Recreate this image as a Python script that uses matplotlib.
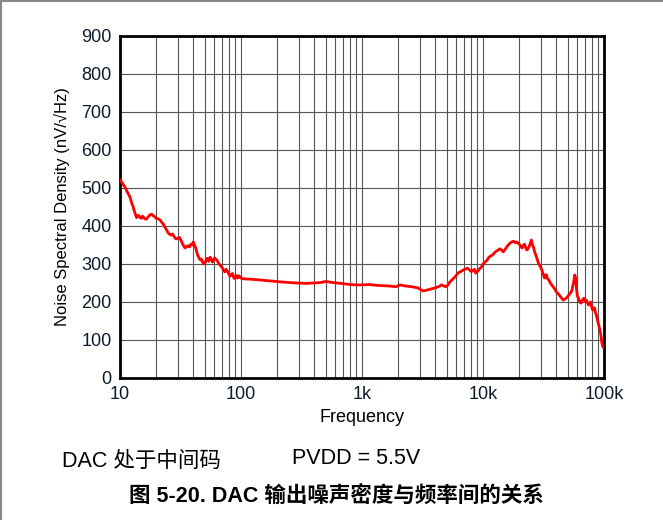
import matplotlib
matplotlib.use("Agg")
import matplotlib.pyplot as plt
from matplotlib.lines import Line2D

plt.rcParams['font.family'] = ['Liberation Sans', 'Noto Sans CJK SC', 'DejaVu Sans']

# noise density trace, (Hz, nV/rtHz) pairs
trace_low = [
    (10, 521), (10.3, 516), (10.6, 510), (11, 502), (11.3, 495), (11.6, 487),
    (11.9, 480), (12.1, 476), (12.3, 468), (12.5, 460), (12.8, 452), (13.0, 444),
    (13.3, 434), (13.5, 428), (13.7, 422), (14.0, 427), (14.3, 428), (14.6, 423),
    (15.0, 420), (15.3, 426), (15.6, 424), (16.0, 419), (16.5, 418), (16.9, 422),
    (17.3, 426), (17.8, 430), (18.3, 431), (18.8, 427), (19.3, 425), (19.8, 421),
    (20.3, 420), (20.8, 418), (21.4, 416), (22.1, 410), (22.8, 405), (23.4, 398),
    (24.0, 392), (24.6, 386), (25.1, 381), (25.8, 378), (26.5, 376), (27.2, 379),
    (28.0, 372), (29.0, 366), (30.3, 368), (31.0, 370), (32.0, 362), (33.2, 350),
    (34.5, 342), (35.5, 346), (36.5, 348), (37.5, 345), (38.5, 352), (39.4, 350),
    (40.3, 358), (41.4, 349), (42.5, 340), (43.2, 330), (44.0, 322), (45.0, 316),
    (45.9, 311), (47.0, 313), (48.0, 306), (49.2, 300), (50.4, 303), (51.5, 310),
    (52.5, 315), (54.0, 307), (55.5, 318), (56.8, 312), (58.0, 305), (59.2, 310),
    (60.5, 316), (61.8, 313), (63.1, 311), (64.5, 305), (66.0, 300), (68.0, 295),
    (70.0, 290), (71.8, 284), (73.6, 279), (75.3, 286), (77.0, 282), (79.0, 275),
    (81.0, 268), (83.0, 272), (85.0, 275), (86.5, 266), (88.0, 262), (90.0, 267),
    (92.0, 270), (93.5, 263), (95.0, 264), (96.5, 269), (98.0, 266), (101, 262),
]
trace_mid = [
    (105, 261), (120, 260), (143, 258), (180, 255), (230, 252), (290, 250),
    (348, 249), (400, 250), (450, 251), (500, 254), (550, 252), (620, 250),
    (700, 248), (800, 246), (900, 245), (1000, 245), (1150, 246), (1300, 244),
    (1500, 243), (1700, 242), (1900, 240), (2054, 245), (2300, 242), (2600, 240),
    (2900, 237), (3200, 229), (3500, 232), (3700, 234), (3900, 236), (4100, 238),
    (4250, 240), (4400, 242), (4550, 245), (4700, 243), (4900, 240), (5100, 244),
]
trace_high = [
    (5300, 252), (5500, 257), (5700, 262), (5950, 268), (6200, 276), (6450, 279),
    (6700, 282), (6950, 285), (7200, 287), (7400, 289), (7600, 287), (7800, 283),
    (8000, 280), (8250, 283), (8500, 286), (8700, 276), (8900, 279), (9150, 283),
    (9400, 288), (9700, 292), (10000, 300), (10400, 305), (10800, 310), (11200, 318),
    (11700, 322), (12100, 325), (12500, 330), (12900, 334), (13400, 337), (13800, 340),
    (14300, 336), (14700, 332), (15200, 338), (15700, 345), (16200, 350), (16700, 355),
    (17300, 358), (17900, 360), (18500, 356), (19100, 358), (19800, 353), (20200, 350),
    (20600, 346), (21000, 342), (21500, 348), (22000, 352), (22500, 344), (23000, 337),
    (23500, 340), (24000, 345), (24600, 355), (25100, 363), (25600, 350), (26100, 345),
    (26700, 332), (27300, 324), (27900, 315), (28500, 305), (29200, 298), (29900, 292),
    (30600, 285), (31100, 278), (31700, 270), (32200, 263), (32800, 268), (33400, 272),
    (34000, 262), (35000, 258), (36000, 250), (37000, 245), (38000, 240), (39200, 234),
    (40500, 226), (42000, 221), (43500, 215), (44700, 210), (46000, 205), (47700, 208),
    (49500, 212), (51000, 218), (52500, 222), (54200, 230), (56000, 250), (57300, 271),
    (58500, 262), (59300, 235), (60000, 220), (60700, 213), (61500, 210), (62200, 205),
    (63000, 200), (64500, 197), (66000, 204), (68000, 210), (70000, 202), (71500, 205),
    (73000, 198), (74500, 192), (76000, 196), (77500, 200), (79000, 188), (80500, 179),
    (82000, 183), (83500, 185), (85000, 172), (86500, 165), (88000, 155), (89500, 145),
    (91000, 135), (92500, 126), (94000, 115), (95000, 105), (96000, 92), (98000, 82),
]

xticks = [10, 100, 1000, 10000, 100000]
xtick_labels = ['10', '100', '1k', '10k', '100k']
yticks = list(range(0, 1000, 100))

trace = trace_low + trace_mid + trace_high
freq = [p[0] for p in trace]
noise = [p[1] for p in trace]

fig = plt.figure(figsize=(6.63, 5.2), dpi=100)
ax = fig.add_axes([120 / 663, 1 - 378 / 520, 484 / 663, 342 / 520])

ax.plot(freq, noise, color='#ff0000', lw=2.0, zorder=3)

ax.set_xscale('log')
ax.set_xlim(10, 100000)
ax.set_ylim(0, 900)
ax.set_xticks(xticks)
ax.set_xticklabels(xtick_labels)
ax.set_yticks(yticks)
ax.minorticks_on()
ax.yaxis.set_minor_locator(matplotlib.ticker.NullLocator())
ax.grid(True, which='both', axis='x', color='#555555', lw=0.8)
ax.grid(True, which='major', axis='y', color='#555555', lw=0.8)
ax.tick_params(which='both', length=0, labelsize=13, colors='#0d1b2a', pad=6)
for s in ax.spines.values():
    s.set_linewidth(2.0)
    s.set_color('black')

ax.set_xlabel('Frequency', fontsize=13, labelpad=4)
ax.set_ylabel('Noise Spectral Density (nV/\u221aHz)', fontsize=12, labelpad=8)

fig.text(62 / 663, 1 - 461 / 520, 'DAC 处于中间码', fontsize=15.5, va='center')
fig.text(292 / 663, 1 - 459 / 520, 'PVDD = 5.5V', fontsize=15.5, va='center')
fig.text(336 / 663, 1 - 497 / 520, '图 5-20. DAC 输出噪声密度与频率间的关系',
         fontsize=15.5, fontweight='bold', ha='center', va='center')

# thin frame lines at top and left of the image
fig.add_artist(Line2D([0, 1], [0.999, 0.999], transform=fig.transFigure, color='#888888', lw=1.5))
fig.add_artist(Line2D([0.001, 0.001], [0, 1], transform=fig.transFigure, color='#888888', lw=1.5))

fig.savefig('out.png', dpi=100)
